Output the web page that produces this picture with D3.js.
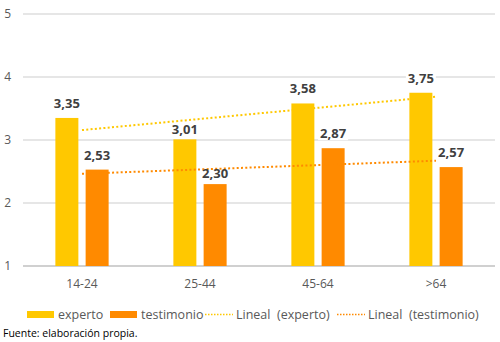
<!DOCTYPE html>
<html><head><meta charset="utf-8">
<script src="https://cdn.jsdelivr.net/npm/d3@7"></script>
<style>body{margin:0;background:#fff}svg{display:block;font-family:"Open Sans",sans-serif}</style>
</head><body><svg id="c" width="500" height="342"></svg>
<script>
const categories = ["14-24","25-44","45-64",">64"];
const experto = [3.35,3.01,3.58,3.75];
const testimonio = [2.53,2.30,2.87,2.57];
const yTicks = [1,2,3,4,5];
const seriesNames = ["experto","testimonio"];
const colors = {experto:"#FFC800", testimonio:"#FF8A00"};
const labelNudge = {experto:[0,5,0,0], testimonio:[0,4,0,0]};

const svg = d3.select("#c");
const x = d3.scaleBand().domain(categories).range([23,495]);
const y = d3.scaleLinear().domain([1,5]).range([266,14]);
const inner = d3.scaleBand().domain(seriesNames).range([0,x.bandwidth()]).paddingInner(0.24).paddingOuter(1.07);

// gridlines
svg.append("g").selectAll("line").data(yTicks).join("line")
  .attr("x1",23).attr("x2",495).attr("y1",d=>y(d)).attr("y2",d=>y(d))
  .attr("stroke",d=>d===1?"#d0d0d0":"#dedede").attr("stroke-width",d=>d===1?2:1.5);

// y axis
const ya = svg.append("g").attr("transform","translate(11,0)").call(d3.axisLeft(y).tickValues(yTicks).tickSize(0).tickPadding(0).tickFormat(d3.format("d")));
ya.select(".domain").remove();
ya.selectAll("text").attr("font-size",12).attr("fill","#595959").attr("font-family","Open Sans").attr("x",0);

// x axis
const xa = svg.append("g").attr("transform","translate(0,266)").call(d3.axisBottom(x).tickSize(0).tickPadding(13));
xa.select(".domain").remove();
xa.selectAll("text").attr("font-size",12).attr("fill","#595959").attr("font-family","Open Sans");

const data = {experto, testimonio};
// bars
seriesNames.forEach(s=>{
  svg.append("g").selectAll("rect").data(categories).join("rect")
    .attr("x",c=>x(c)+inner(s)).attr("width",inner.bandwidth())
    .attr("y",(c,i)=>y(data[s][i])).attr("height",(c,i)=>y(1)-y(data[s][i]))
    .attr("fill",colors[s]);
});

// label backgrounds
const labelPos = [];
seriesNames.forEach(s=>{
  categories.forEach((c,i)=>{
    labelPos.push({s,i,cx:x(c)+inner(s)+inner.bandwidth()/2,by:y(data[s][i])-10+labelNudge[s][i],
      t:d3.format(".2f")(data[s][i]).replace(".",",")});
  });
});
svg.append("g").selectAll("rect").data(labelPos).join("rect")
  .attr("x",d=>d.cx-15).attr("y",d=>d.by-11).attr("width",30).attr("height",13).attr("fill","#fff");

// trendlines (least squares from data)
function fit(vals){
  const xs=vals.map((v,i)=>i+1);
  const mx=d3.mean(xs), my=d3.mean(vals);
  const b=d3.sum(xs.map((xx,i)=>(xx-mx)*(vals[i]-my)))/d3.sum(xs.map(xx=>(xx-mx)**2));
  return i=>my+b*((i+1)-mx);
}
seriesNames.forEach(s=>{
  const f=fit(data[s]);
  const first=categories[0], last=categories[categories.length-1];
  svg.append("line")
    .attr("x1",x(first)+x.bandwidth()/2).attr("x2",x(last)+x.bandwidth()/2)
    .attr("y1",y(f(0))).attr("y2",y(f(categories.length-1)))
    .attr("stroke",colors[s]).attr("stroke-width",2).attr("stroke-dasharray","2 2.3");
});

// data labels
svg.append("g").selectAll("text").data(labelPos).join("text")
  .attr("x",d=>d.cx).attr("y",d=>d.by).attr("text-anchor","middle")
  .attr("font-size",13).attr("font-weight","bold").attr("fill","#404040").text(d=>d.t);

// legend
const lg=svg.append("g").attr("font-size",12.5).attr("fill","#595959");
const legendItems=[
  {type:"rect",key:"experto",label:"experto",x:27},
  {type:"rect",key:"testimonio",label:"testimonio",x:110},
  {type:"line",key:"experto",label:"Lineal  (experto)",x:205},
  {type:"line",key:"testimonio",label:"Lineal  (testimonio)",x:337}
];
legendItems.forEach(it=>{
  if(it.type==="rect"){
    lg.append("rect").attr("x",it.x).attr("y",311).attr("width",27).attr("height",7).attr("fill",colors[it.key]);
    lg.append("text").attr("x",it.x+31).attr("y",319).attr("fill","#595959").text(it.label);
  } else {
    lg.append("line").attr("x1",it.x).attr("x2",it.x+28).attr("y1",314.5).attr("y2",314.5)
      .attr("stroke",colors[it.key]).attr("stroke-width",1.5).attr("stroke-dasharray","1.5 1.5");
    lg.append("text").attr("x",it.x+31).attr("y",319).attr("fill","#595959").style("white-space","pre").text(it.label);
  }
});

svg.append("text").attr("x",3).attr("y",337).attr("font-size",10.5).attr("fill","#000").text("Fuente: elaboración propia.");
</script></body></html>
